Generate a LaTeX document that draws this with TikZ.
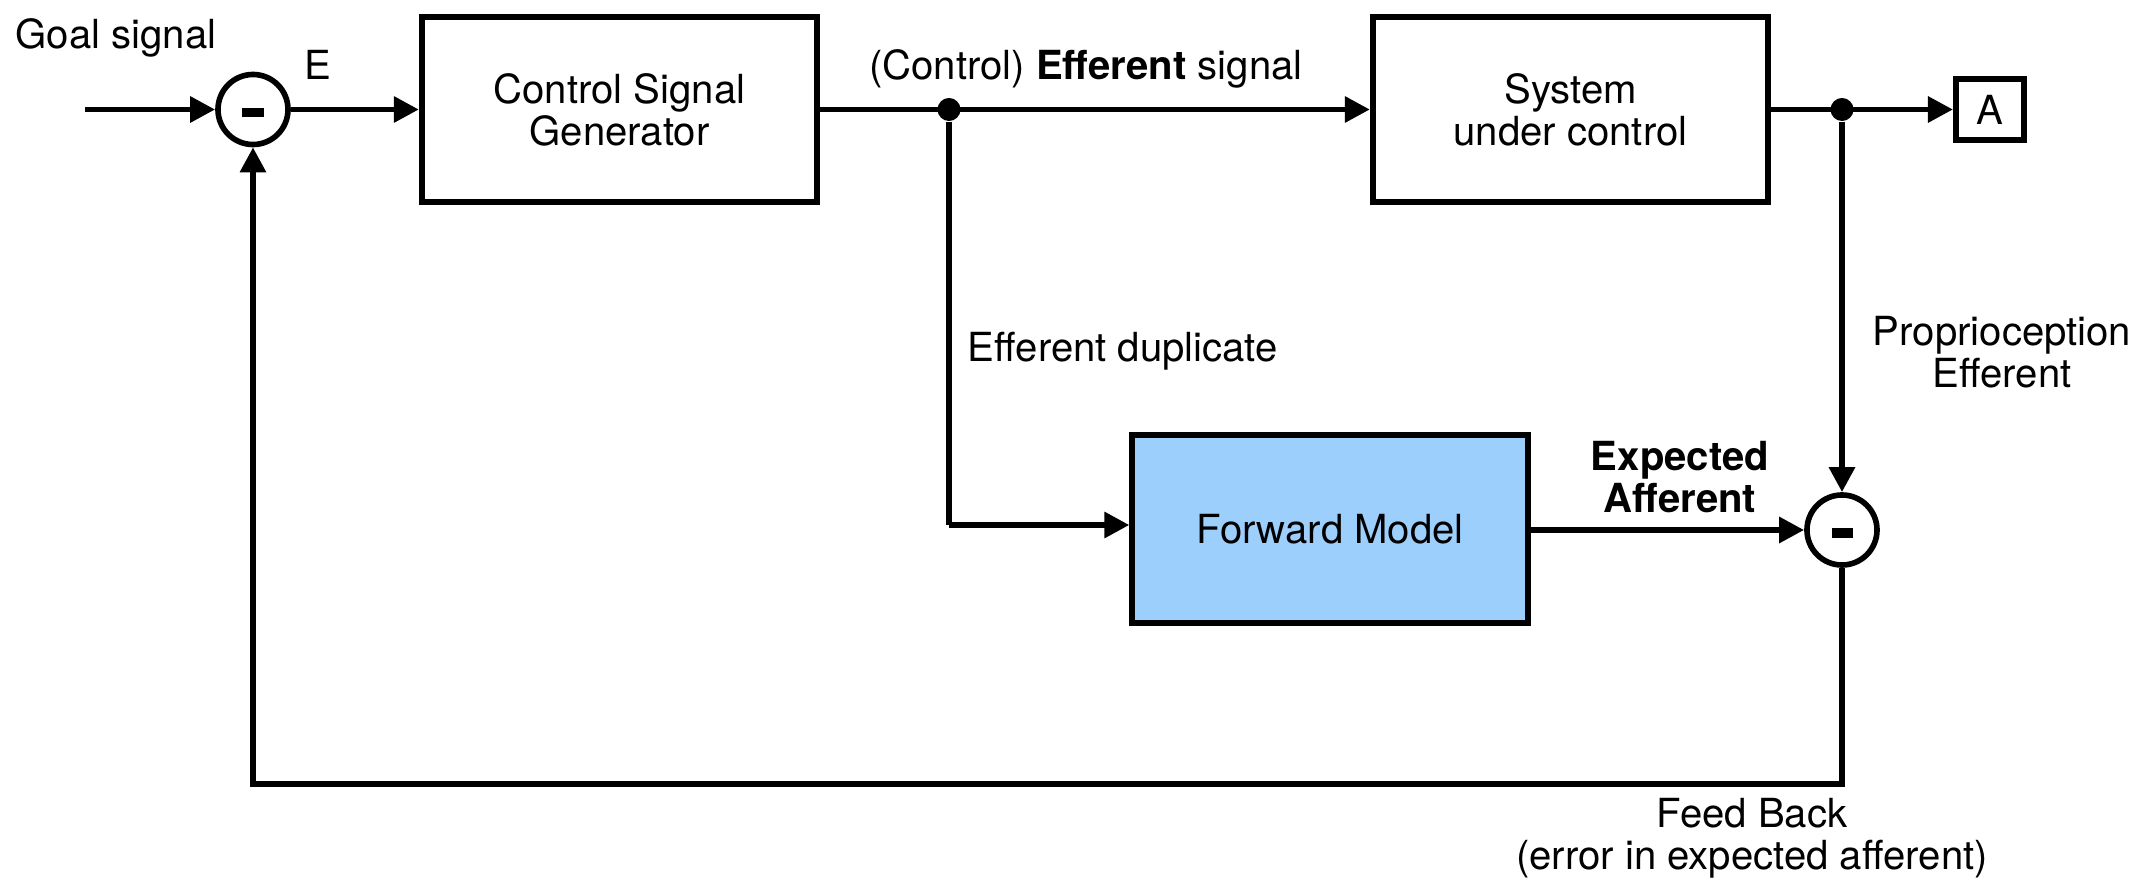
\documentclass[tikz,border=0pt]{standalone}
\usepackage{fontspec}
\setmainfont{TeX Gyre Heros}
\usetikzlibrary{arrows.meta}
\definecolor{fmblue}{HTML}{9DCFFD}
\newcommand{\txtsize}{\fontsize{11.4}{12}\selectfont}
\begin{document}
\begin{tikzpicture}[x=0.01cm,y=-0.01cm,
  font=\txtsize,
  block/.style={draw,line width=1.7pt,minimum width=3.95cm,minimum height=1.85cm,align=center,inner sep=0pt},
  sumnode/.style={draw,circle,line width=1.6pt,minimum size=0.70cm,inner sep=0pt,
    path picture={\fill ([xshift=-0.105cm,yshift=-0.075cm]path picture bounding box.center) rectangle ++(0.21cm,0.09cm);}},
  junction/.style={circle,fill,inner sep=0pt,minimum size=0.23cm},
  tip/.style={-{Triangle[length=0.25cm,width=0.25cm]}},
  sig/.style={line width=1.7pt,tip},
  tap/.style={line width=1.7pt},
  lbl/.style={align=center,inner sep=0pt}]
\useasboundingbox (0,0) rectangle (2156,882);

% blocks and summing junctions
\node[sumnode] (s1) at (253,109.5) {};
\node[block] (csg) at (619.5,109.5) {Control Signal\\Generator};
\node[block] (suc) at (1570.5,109.5) {System\\under control};
\node[draw,line width=1.7pt,minimum width=0.68cm,minimum height=0.60cm,inner sep=0pt] (A) at (1990,109.5) {A};
\node[block,fill=fmblue,minimum height=1.88cm] (fm) at (1330,529) {Forward Model};
\node[sumnode] (s2) at (1842,530) {};

% branch points
\node[junction] (j1) at (949,109.5) {};
\node[junction] (j2) at (1842,109.5) {};

% helper points
\coordinate (in) at (85,109.5);
\coordinate (dupcorner) at (949,525);
\coordinate (fbR) at (1842,784);
\coordinate (fbL) at (253,784);

% forward path
\draw[sig] (in) -- (s1);
\draw[sig] (s1) -- (csg);
\draw[sig] (csg) -- (suc);
\draw[sig] (suc.east) -- (A.west);

% efference copy to the forward model
\draw[tap] (j1) -- (dupcorner);
\draw[sig] (dupcorner) -- (dupcorner -| fm.west);
\draw[sig] (fm.east |- s2) -- (s2);

% proprioceptive feedback
\draw[sig] (j2) -- (s2);
\draw[sig] (s2) -- (fbR) -- (fbL) -- (s1);

% labels
\node[lbl] (lgoal) at (116,38) {Goal signal};
\node[lbl] (lE) at (318,65) {E};
\node[lbl] (leff) at (1086,69) {(Control) \textbf{Efferent} signal};
\node[lbl,anchor=west] (ldup) at (967,351) {Efferent duplicate};
\node[lbl] (lprop) at (2002,352) {Proprioception\\Efferent};
\node[lbl,font=\txtsize\bfseries] (lexp) at (1680,477) {Expected\\Afferent};
\node[lbl] (lfb) at (1752,838) {Feed Back\\(error in expected afferent)};
\end{tikzpicture}
\end{document}
